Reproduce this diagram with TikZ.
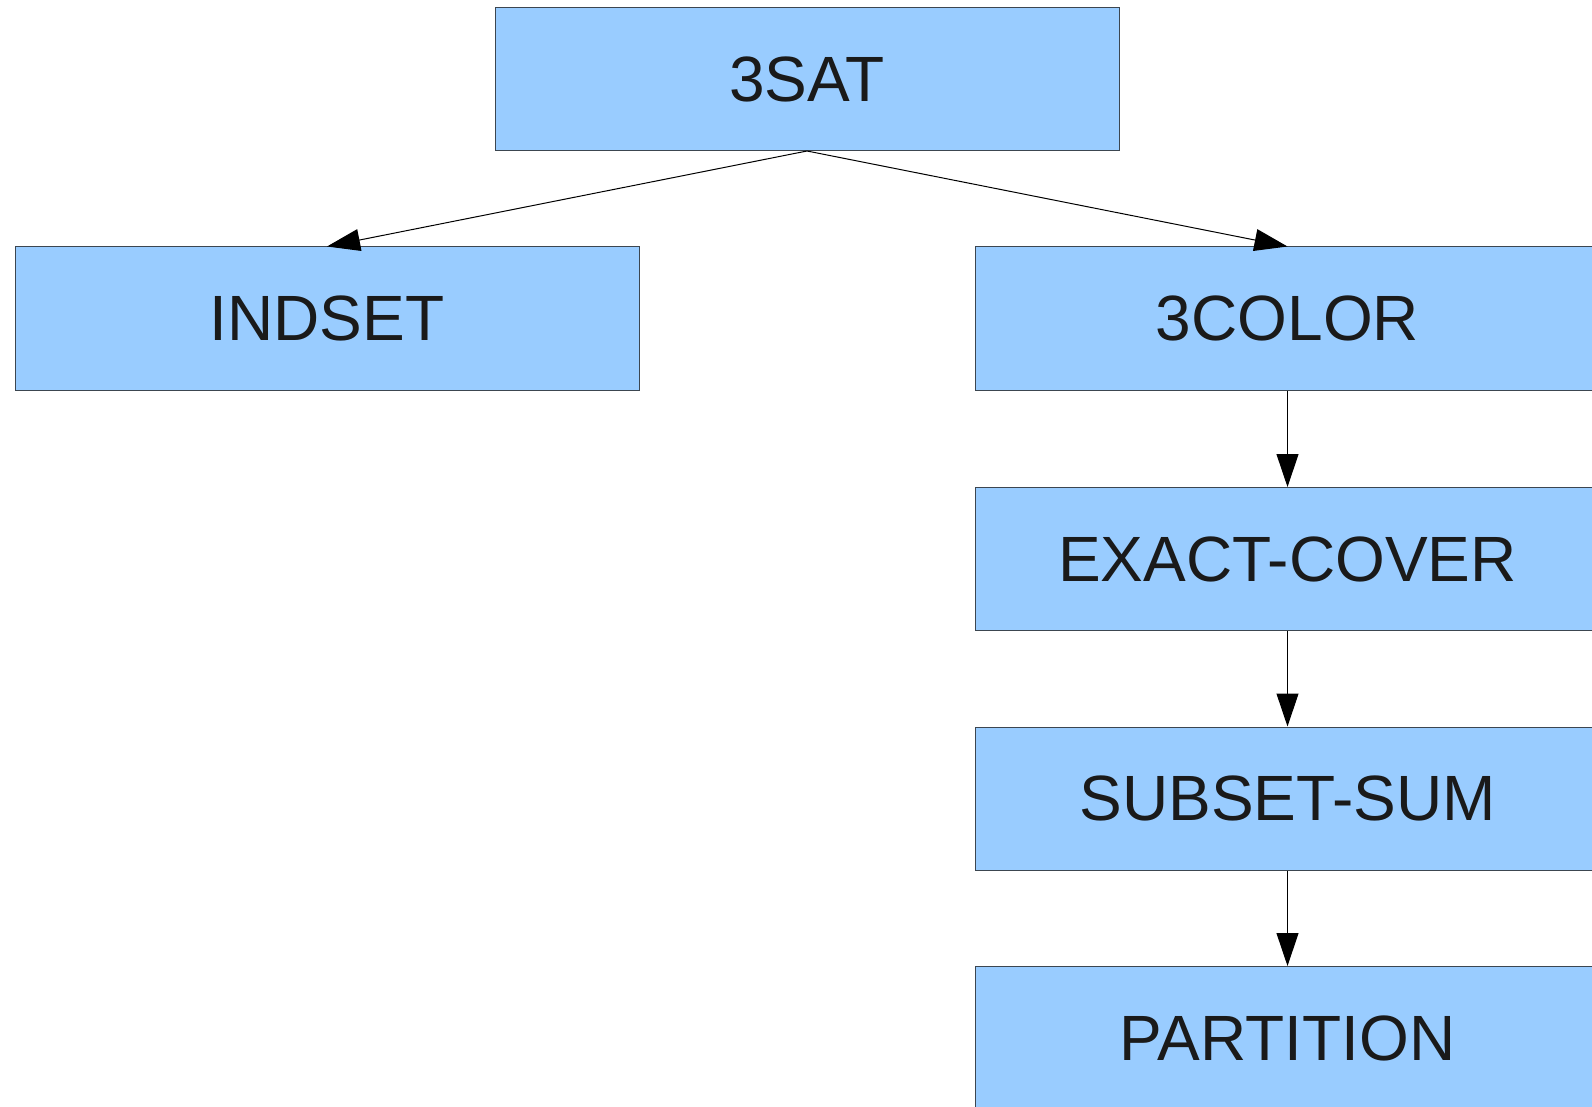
\documentclass[tikz,border=0pt]{standalone}
\usepackage{fontspec}
\setmainfont{Liberation Sans}
\usepackage{tikz}
\usetikzlibrary{arrows.meta, positioning}
\definecolor{npBlue}{HTML}{99CCFF}
\definecolor{npEdge}{HTML}{3C4650}
\definecolor{npText}{HTML}{1A1A1A}
\tikzset{
  probbox/.style={draw=npEdge, fill=npBlue, line width=1pt, rectangle,
    minimum width=624pt, minimum height=143pt, inner sep=0pt,
    text=npText, font=\fontsize{64}{76}\selectfont},
  reduce/.style={-{Triangle[length=33pt, width=22pt]}, line width=1pt, black}
}
\begin{document}
\begin{tikzpicture}[x=1pt, y=-1pt]
  % ramka obrazka
  \useasboundingbox (0,0) rectangle (1592,1107);
  \clip (0,0) rectangle (1592,1107);
  % problemy
  \node[probbox] (sat)    at (807,79)     {3SAT};
  \node[probbox] (indset) at (327,318.5)  {INDSET};
  \node[probbox] (color)  at (1287.5,318.5) {3COLOR};
  \node[probbox] (cover)  at (1287.5,559) {EXACT-COVER};
  \node[probbox] (subset) at (1287.5,798.5) {SUBSET-SUM};
  \node[probbox] (part)   at (1287.5,1038) {PARTITION};
  % redukcje
  \draw[reduce] (sat.south) -- (indset.north);
  \draw[reduce] (sat.south) -- (color.north);
  \draw[reduce] (color) -- (cover);
  \draw[reduce] (cover) -- (subset);
  \draw[reduce] (subset) -- (part);
\end{tikzpicture}
\end{document}
